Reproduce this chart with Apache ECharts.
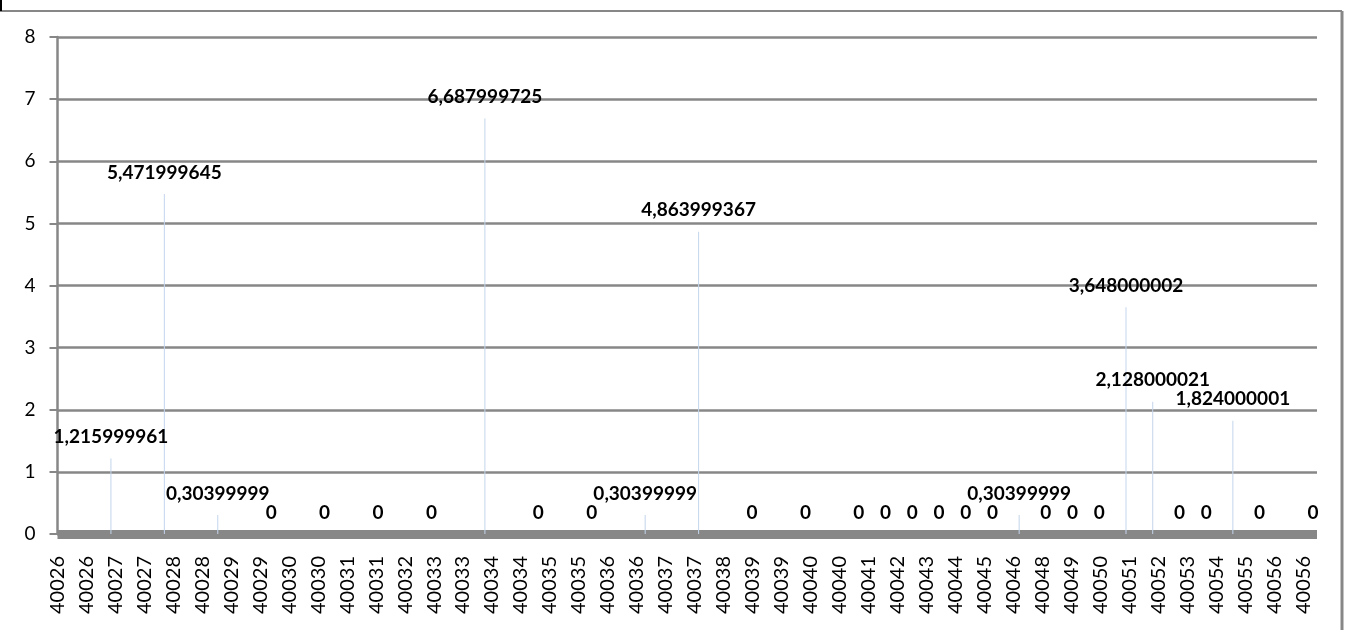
<!DOCTYPE html>
<html>
<head>
<meta charset="utf-8">
<script src="https://cdn.jsdelivr.net/npm/echarts@6/dist/echarts.min.js"></script>
<style>
html,body{margin:0;padding:0;background:#fff;}
#chart{width:1349px;height:630px;}
</style>
</head>
<body>
<div id="chart"></div>
<script>
// Tick labels of the horizontal axis
var tickLabels = ['40026','40026','40027','40027','40028','40028','40029','40029','40030','40030',
  '40031','40031','40032','40033','40033','40034','40034','40035','40035','40036',
  '40036','40037','40037','40038','40039','40039','40040','40040','40041','40042',
  '40043','40044','40045','40046','40048','40049','40050','40051','40052','40053',
  '40054','40055','40056','40056'];
// Day position of each bar (days after the first bar)
var barDays = [0, 2, 4, 6, 8, 10, 12, 14, 16, 18, 20, 22, 24, 26,
  28, 29, 30, 31, 32, 33, 34, 35, 36, 37, 38, 39, 40, 41, 42, 43, 45];
// Bar values
var barValues = [1.215999961, 5.471999645, 0.30399999, 0, 0, 0, 0, 6.687999725, 0, 0, 0.30399999, 4.863999367, 0, 0,
  0, 0, 0, 0, 0, 0, 0.30399999, 0, 0, 0, 3.648000002, 2.128000021, 0, 0, 1.824000001, 0, 0];
var yTicks = [0, 1, 2, 3, 4, 5, 6, 7, 8];

var chart = echarts.init(document.getElementById('chart'));
var pairs = barDays.map(function (d, i) { return [d, barValues[i]]; });
var gray = '#878787';
var option = {
  animation: false,
  textStyle: { fontFamily: 'Lato' },
  grid: { left: 57.5, right: 32, top: 37, bottom: 96, containLabel: false },
  xAxis: [{
    type: 'value', min: 0, max: 43.48, interval: 1, position: 'bottom', offset: 4,
    axisLine: { show: true, lineStyle: { color: gray, width: 9, cap: 'butt' } },
    axisTick: { show: false },
    splitLine: { show: false },
    axisLabel: {
      rotate: 90, margin: 18, fontSize: 20, color: '#000', fontFamily: 'Lato',
      showMaxLabel: false,
      formatter: function (v) {
        var r = Math.round(v);
        if (Math.abs(v - r) > 1e-6) return '';
        return tickLabels[r] || '';
      }
    }
  }, {
    type: 'value', min: -2, max: 45.15, show: false
  }],
  yAxis: {
    type: 'value', min: yTicks[0], max: yTicks[yTicks.length - 1], interval: 1,
    axisLine: { show: true, lineStyle: { color: gray, width: 2.5 } },
    axisTick: { show: true, length: 8, lineStyle: { color: gray, width: 2 } },
    axisLabel: { margin: 22, fontSize: 19, color: '#000', fontFamily: 'Lato' },
    splitLine: { show: true, lineStyle: { color: gray, width: 2.5 } }
  },
  series: [{
    type: 'bar', xAxisIndex: 1, yAxisIndex: 0,
    data: pairs, barWidth: 1,
    itemStyle: { color: '#c3d5ec' },
    label: {
      show: true, position: 'top', distance: 12,
      fontSize: 19, fontWeight: 'bold', color: '#000', fontFamily: 'Lato',
      formatter: function (p) { return String(p.value[1]).replace('.', ','); }
    },
    z: 3
  }],
  graphic: [
    { type: 'line', shape: { x1: 0, y1: 11, x2: 1342, y2: 11 }, style: { stroke: gray, lineWidth: 2 } },
    { type: 'line', shape: { x1: 1342, y1: 11, x2: 1342, y2: 640 }, style: { stroke: gray, lineWidth: 3 } },
    { type: 'line', shape: { x1: 1, y1: 0, x2: 1, y2: 11 }, style: { stroke: '#000', lineWidth: 2 } }
  ]
};
chart.setOption(option);
</script>
</body>
</html>
